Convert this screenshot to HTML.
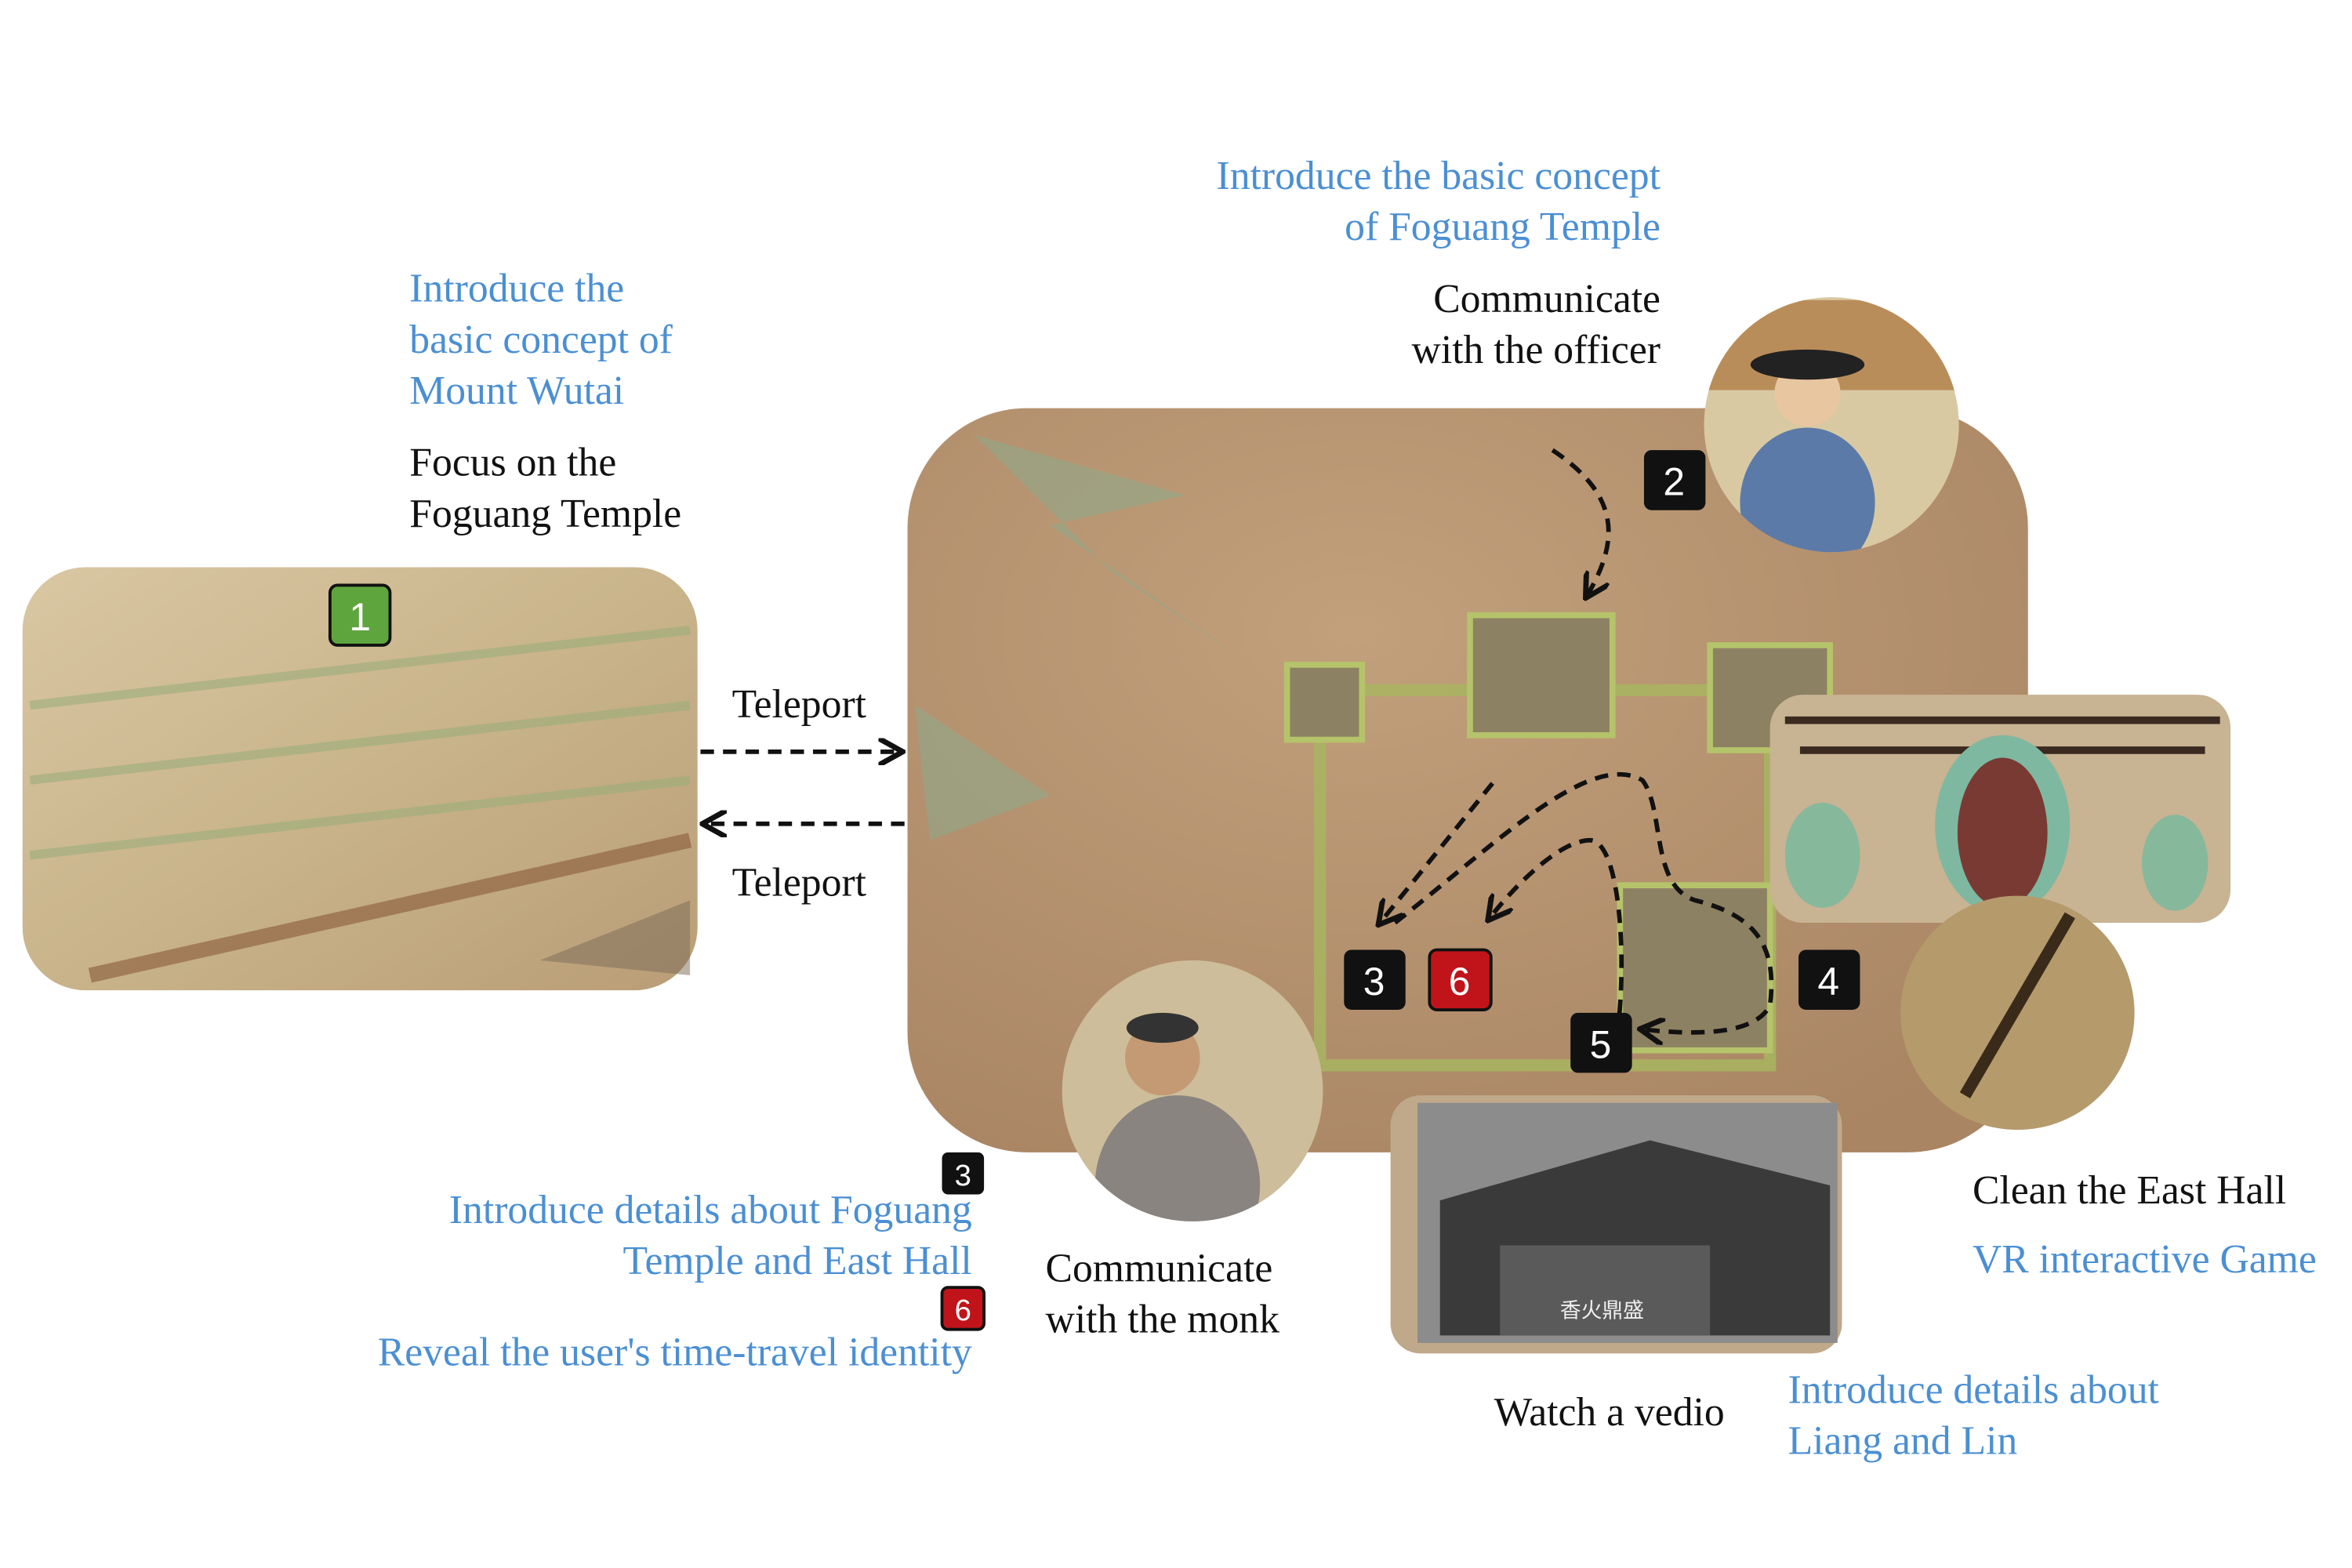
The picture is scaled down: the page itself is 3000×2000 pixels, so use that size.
<!DOCTYPE html>
<html><head><meta charset="utf-8"><style>
html,body{margin:0;padding:0;background:#fff}
svg{display:block}
text{font-family:"Liberation Serif",serif;font-size:27px}
.b{fill:#4b8fd3}.k{fill:#111}
</style></head><body>
<svg width="3000" height="2000" viewBox="0 0 1568 1045" preserveAspectRatio="none" xmlns="http://www.w3.org/2000/svg">
<defs>
<marker id="ah" viewBox="0 0 10 10" refX="8" refY="5" markerWidth="6" markerHeight="6" orient="auto"><path d="M0,0 L9,5 L0,10" fill="none" stroke="#111" stroke-width="2"/></marker>
<radialGradient id="mapg" cx="0.4" cy="0.3" r="0.8"><stop offset="0" stop-color="#c2a07c"/><stop offset="1" stop-color="#a98563"/></radialGradient>
<linearGradient id="mural" x1="0" y1="0" x2="1" y2="1"><stop offset="0" stop-color="#d9c7a3"/><stop offset="0.5" stop-color="#c9b48b"/><stop offset="1" stop-color="#b99d76"/></linearGradient>
<clipPath id="c1"><circle cx="1221" cy="283" r="85"/></clipPath>
<clipPath id="c2"><circle cx="795" cy="727" r="87"/></clipPath>
</defs>
<!-- left mural -->
<g>
<rect x="15" y="378" width="450" height="282" rx="42" fill="url(#mural)"/>
<path d="M20,470 L460,420 M20,520 L460,470 M20,570 L460,520" stroke="#9cae7c" stroke-width="6" opacity="0.6"/>
<path d="M60,650 L460,560" stroke="#8a5a3a" stroke-width="10" opacity="0.6"/>
<path d="M360,640 L460,600 L460,650 Z" fill="#7a6a58" opacity="0.5"/>
</g>
<g><rect x="220" y="390" width="40" height="40" rx="5" fill="#5fa53e" stroke="#111" stroke-width="2"/><text x="240" y="420" text-anchor="middle" fill="#fff" style="font-family:'Liberation Sans',sans-serif;font-size:26px">1</text></g>
<text class="b" x="273" y="201">Introduce the</text>
<text class="b" x="273" y="235">basic concept of</text>
<text class="b" x="273" y="269">Mount Wutai</text>
<text class="k" x="273" y="317">Focus on the</text>
<text class="k" x="273" y="351">Foguang Temple</text>
<!-- teleport -->
<text class="k" x="488" y="478">Teleport</text>
<line x1="467" y1="501" x2="600" y2="501" stroke="#111" stroke-width="3" stroke-dasharray="9,6" marker-end="url(#ah)"/>
<line x1="603" y1="549" x2="470" y2="549" stroke="#111" stroke-width="3" stroke-dasharray="9,6" marker-end="url(#ah)"/>
<text class="k" x="488" y="597">Teleport</text>
<!-- main map -->
<g>
<rect x="605" y="272" width="747" height="496" rx="80" fill="url(#mapg)"/>
<path d="M650,290 L790,330 L700,350 L830,440 L740,380 Z" fill="#8fa88a" opacity="0.6"/>
<path d="M610,470 L700,530 L620,560 Z" fill="#8fa88a" opacity="0.6"/>
<g fill="none" stroke="#a8b560" stroke-width="8" opacity="0.85">
<rect x="880" y="460" width="300" height="250"/>
</g>
<g fill="#8d8163" stroke="#b5c36a" stroke-width="4">
<rect x="980" y="410" width="95" height="80"/><rect x="858" y="443" width="50" height="50"/><rect x="1140" y="430" width="80" height="70"/><rect x="1080" y="590" width="100" height="110"/>
</g>
</g>
<g fill="none" stroke="#111" stroke-width="3" stroke-dasharray="9,6">
<path d="M1035,300 C1080,330 1080,360 1058,397" marker-end="url(#ah)"/>
<path d="M995,522 L920,615" marker-end="url(#ah)"/>
<path d="M930,615 C1000,560 1060,500 1095,520 C1110,540 1100,590 1130,600 C1170,610 1185,630 1180,670 C1170,690 1130,690 1095,686" marker-end="url(#ah)"/>
<path d="M1078,690 C1085,640 1080,560 1060,560 C1040,560 1010,590 993,612" marker-end="url(#ah)"/>
</g>
<!-- officer circle -->
<g clip-path="url(#c1)">
<circle cx="1221" cy="283" r="85" fill="#d9c9a3"/>
<rect x="1136" y="200" width="170" height="60" fill="#b98d5a"/>
<ellipse cx="1205" cy="335" rx="45" ry="50" fill="#5c7aa8"/>
<circle cx="1205" cy="262" r="22" fill="#e8c6a0"/>
<ellipse cx="1205" cy="243" rx="38" ry="10" fill="#222"/>
</g>
<!-- east hall -->
<g>
<rect x="1180" y="463" width="307" height="152" rx="22" fill="#c8b393"/>
<path d="M1190,480 L1480,480 M1200,500 L1470,500" stroke="#3a2a20" stroke-width="5"/>
<ellipse cx="1335" cy="550" rx="45" ry="60" fill="#7fb8a0"/><ellipse cx="1335" cy="555" rx="30" ry="50" fill="#7a3a34"/>
<ellipse cx="1215" cy="570" rx="25" ry="35" fill="#86b89c"/><ellipse cx="1450" cy="575" rx="22" ry="32" fill="#86b89c"/>
</g>
<g><circle cx="1345" cy="675" r="78" fill="#b59a6c"/><path d="M1380,610 L1310,730" stroke="#3a2a1a" stroke-width="8"/></g>
<!-- monk -->
<g clip-path="url(#c2)">
<circle cx="795" cy="727" r="87" fill="#cdbd9a"/>
<ellipse cx="785" cy="790" rx="55" ry="60" fill="#8a8480"/>
<circle cx="775" cy="705" r="25" fill="#c49a74"/>
<ellipse cx="775" cy="685" rx="24" ry="10" fill="#333"/>
</g>
<!-- video -->
<g>
<rect x="927" y="730" width="301" height="172" rx="20" fill="#bfa98a"/>
<rect x="945" y="735" width="280" height="160" fill="#8c8c8c"/>
<path d="M960,800 L1100,760 L1220,790 L1220,890 L960,890 Z" fill="#3a3a3a"/>
<rect x="1000" y="830" width="140" height="60" fill="#5a5a5a"/>
<text x="1068" y="878" text-anchor="middle" fill="#eee" style="font-family:'Noto Sans CJK SC',sans-serif;font-size:14px">香火鼎盛</text>
</g>
<!-- badges -->
<g><rect x="1096" y="300" width="41" height="40" rx="5" fill="#111"/><text x="1116" y="330" text-anchor="middle" fill="#fff" style="font-family:'Liberation Sans',sans-serif;font-size:26px">2</text></g>
<g><rect x="896" y="633" width="41" height="40" rx="5" fill="#111"/><text x="916" y="663" text-anchor="middle" fill="#fff" style="font-family:'Liberation Sans',sans-serif;font-size:26px">3</text></g>
<g><rect x="953" y="633" width="41" height="40" rx="5" fill="#c0141a" stroke="#111" stroke-width="2"/><text x="973" y="663" text-anchor="middle" fill="#fff" style="font-family:'Liberation Sans',sans-serif;font-size:26px">6</text></g>
<g><rect x="1199" y="633" width="41" height="40" rx="5" fill="#111"/><text x="1219" y="663" text-anchor="middle" fill="#fff" style="font-family:'Liberation Sans',sans-serif;font-size:26px">4</text></g>
<g><rect x="1047" y="675" width="41" height="40" rx="5" fill="#111"/><text x="1067" y="705" text-anchor="middle" fill="#fff" style="font-family:'Liberation Sans',sans-serif;font-size:26px">5</text></g>
<g><rect x="628" y="768" width="28" height="28" rx="4" fill="#111"/><text x="642" y="790" text-anchor="middle" fill="#fff" style="font-family:'Liberation Sans',sans-serif;font-size:20px">3</text></g>
<g><rect x="628" y="858" width="28" height="28" rx="4" fill="#c0141a" stroke="#111" stroke-width="2"/><text x="642" y="880" text-anchor="middle" fill="#fff" style="font-family:'Liberation Sans',sans-serif;font-size:20px">6</text></g>
<!-- texts -->
<text class="b" x="1107" y="126" text-anchor="end">Introduce the basic concept</text>
<text class="b" x="1107" y="160" text-anchor="end">of Foguang Temple</text>
<text class="k" x="1107" y="208" text-anchor="end">Communicate</text>
<text class="k" x="1107" y="242" text-anchor="end">with the officer</text>
<text class="b" x="648" y="815" text-anchor="end">Introduce details about Foguang</text>
<text class="b" x="648" y="849" text-anchor="end">Temple and East Hall</text>
<text class="b" x="648" y="910" text-anchor="end">Reveal the user's time-travel identity</text>
<text class="k" x="697" y="854">Communicate</text>
<text class="k" x="697" y="888">with the monk</text>
<text class="k" x="996" y="950">Watch a vedio</text>
<text class="b" x="1192" y="935">Introduce details about</text>
<text class="b" x="1192" y="969">Liang and Lin</text>
<text class="k" x="1315" y="802">Clean the East Hall</text>
<text class="b" x="1315" y="848">VR interactive Game</text>
</svg>
</body></html>
